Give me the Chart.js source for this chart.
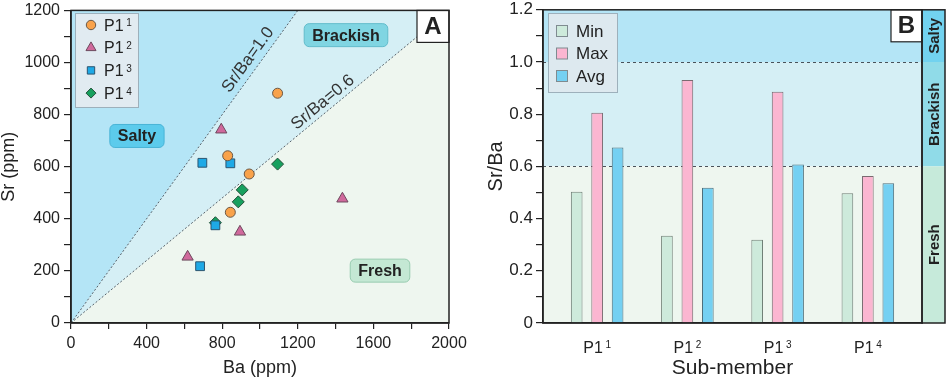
<!DOCTYPE html>
<html><head><meta charset="utf-8">
<script src="https://cdn.jsdelivr.net/npm/chart.js@4.4.1/dist/chart.umd.min.js"></script>
<style>
html,body{margin:0;padding:0;background:#fff;}
#wrap{position:relative;width:948px;height:382px;overflow:hidden;}
#a{position:absolute;left:0;top:0;width:474px;height:382px;}
#b{position:absolute;left:474px;top:0;width:474px;height:382px;}
</style></head><body>
<div id="wrap"><div id="a"><canvas id="ca"></canvas></div><div id="b"><canvas id="cb"></canvas></div></div>
<script>
// ---------- data ----------
const subMembers = ['P1¹', 'P1²', 'P1³', 'P1⁴'];
// Panel A: Ba (ppm) vs Sr (ppm)
const p11Ba = [1093, 829, 943, 843];
const p11Sr = [882, 642, 572, 425];
const p12Ba = [795, 1436, 894, 617];
const p12Sr = [742, 477, 350, 254];
const p13Ba = [695, 843, 764, 683];
const p13Sr = [615, 613, 375, 218];
const p14Ba = [1093, 906, 885, 764];
const p14Sr = [610, 511, 465, 385];
// Panel B: Sr/Ba ratio per sub-member
const ratioMin = [0.503, 0.334, 0.319, 0.497];
const ratioMax = [0.806, 0.931, 0.886, 0.563];
const ratioAvg = [0.672, 0.518, 0.607, 0.535];
// thresholds
const brackishLimit = 0.6;
const saltyLimit = 1.0;
// tick labels
const xTickLabelsA = ['0', '400', '800', '1200', '1600', '2000'];
const yTickLabelsA = ['0', '200', '400', '600', '800', '1000', '1200'];
const yTickLabelsB = ['0', '0.2', '0.4', '0.6', '0.8', '1.0', '1.2'];

// ---------- styles ----------
const FONT = "'Liberation Sans', Arial, Helvetica, sans-serif";
const INK = '#222';
const C_SALTY = '#b4e5f6';
const C_BRACK = '#d5eff5';
const C_FRESH = '#eef6ef';

const SUP = {'¹': '1', '²': '2', '³': '3', '⁴': '4'};
function splitSup(s) {
  const last = s.slice(-1);
  return SUP[last] ? [s.slice(0, -1), SUP[last]] : [s, ''];
}
function drawSupText(ctx, s, x, y, size, align) {
  const [base, sup] = splitSup(s);
  const ss = Math.round(size * 0.6);
  ctx.font = size + 'px ' + FONT;
  const wb = ctx.measureText(base).width;
  ctx.font = ss + 'px ' + FONT;
  const ws = ctx.measureText(sup).width;
  const gap = size * 0.16;
  const x0 = align === 'center' ? x - (wb + gap + ws) / 2 : x;
  ctx.textAlign = 'left';
  ctx.textBaseline = 'alphabetic';
  ctx.fillStyle = INK;
  ctx.font = size + 'px ' + FONT;
  ctx.fillText(base, x0, y + size * 0.36);
  ctx.font = ss + 'px ' + FONT;
  ctx.fillText(sup, x0 + wb + gap, y - size * 0.36 + ss * 0.72);
}
function drawMarker(ctx, style, x, y, r, fill, stroke) {
  ctx.beginPath();
  if (style === 'circle') {
    ctx.arc(x, y, r, 0, Math.PI * 2);
  } else if (style === 'triangle') {
    ctx.moveTo(x, y - r);
    ctx.lineTo(x + r * 0.866, y + r * 0.5);
    ctx.lineTo(x - r * 0.866, y + r * 0.5);
    ctx.closePath();
  } else if (style === 'rect') {
    const h = r * Math.SQRT1_2;
    ctx.rect(x - h, y - h, 2 * h, 2 * h);
  } else {
    ctx.moveTo(x, y - r); ctx.lineTo(x + r, y); ctx.lineTo(x, y + r); ctx.lineTo(x - r, y); ctx.closePath();
  }
  ctx.fillStyle = fill; ctx.fill();
  ctx.lineWidth = 1; ctx.strokeStyle = stroke; ctx.stroke();
}
function roundBox(ctx, cx, cy, text, fill, stroke) {
  ctx.font = 'bold 16px ' + FONT;
  const w = ctx.measureText(text).width + 16, h = 23;
  ctx.beginPath();
  ctx.roundRect(cx - w / 2, cy - h / 2, w, h, 5);
  ctx.fillStyle = fill; ctx.fill();
  ctx.lineWidth = 1; ctx.strokeStyle = stroke; ctx.stroke();
  ctx.fillStyle = INK; ctx.textAlign = 'center'; ctx.textBaseline = 'middle';
  ctx.fillText(text, cx, cy + 1);
}

// ---------- Panel A ----------
const markerStyles = ['circle', 'triangle', 'rect', 'rectRot'];
const markerFill = ['#f9a24a', '#d0699c', '#1ea9e6', '#17a05e'];
const markerStroke = ['#6b5846', '#6d4a5e', '#2c5570', '#24503a'];
const markerRadius = [5, 6.5, 6.2, 6];
const seriesA = [[p11Ba, p11Sr], [p12Ba, p12Sr], [p13Ba, p13Sr], [p14Ba, p14Sr]];

const regionLabelsA = [
  {text: 'Salty', ba: 349, sr: 718, fill: '#5ccbec', stroke: '#48b3d6'},
  {text: 'Brackish', ba: 1455, sr: 1105, fill: '#80d5e2', stroke: '#62bccb'},
  {text: 'Fresh', ba: 1635, sr: 201, fill: '#c4e8d4', stroke: '#98ccb0'}
];
const lineLabelsA = [
  {text: 'Sr/Ba=1.0', ratio: saltyLimit, ba: 937, sr: 1010},
  {text: 'Sr/Ba=0.6', ratio: brackishLimit, ba: 1333, sr: 847}
];

const pluginA = {
  id: 'panelA',
  beforeDraw(chart) {
    const {ctx, chartArea: ca, scales: {x, y}} = chart;
    const P = (b, s) => [x.getPixelForValue(b), y.getPixelForValue(s)];
    const xMax = x.max, yMax = y.max;
    ctx.save();
    ctx.beginPath(); ctx.rect(ca.left, ca.top, ca.width, ca.height); ctx.clip();
    const poly = (pts, col) => {
      ctx.beginPath();
      pts.forEach((p, i) => { const q = P(p[0], p[1]); i ? ctx.lineTo(q[0], q[1]) : ctx.moveTo(q[0], q[1]); });
      ctx.closePath(); ctx.fillStyle = col; ctx.fill();
    };
    poly([[0, 0], [xMax, 0], [xMax, xMax * brackishLimit], [yMax / brackishLimit, yMax], [yMax, yMax]], C_FRESH);
    poly([[0, 0], [yMax / brackishLimit, yMax], [yMax / saltyLimit, yMax]], C_BRACK);
    poly([[0, 0], [yMax / saltyLimit, yMax], [0, yMax]], C_SALTY);
    // dotted ratio lines
    ctx.setLineDash([2, 2]); ctx.lineWidth = 1; ctx.strokeStyle = '#56616a';
    [saltyLimit, brackishLimit].forEach(r => {
      const a = P(0, 0), b = P(yMax / r, yMax);
      ctx.beginPath(); ctx.moveTo(a[0], a[1]); ctx.lineTo(b[0], b[1]); ctx.stroke();
    });
    ctx.setLineDash([]);
    // rotated line labels
    lineLabelsA.forEach(l => {
      const a = P(0, 0), b = P(1000, 1000 * l.ratio);
      const ang = Math.atan2(a[1] - b[1], b[0] - a[0]);
      const c = P(l.ba, l.sr);
      ctx.save(); ctx.translate(c[0], c[1]); ctx.rotate(-ang);
      ctx.font = '17px ' + FONT; ctx.fillStyle = '#333'; ctx.textAlign = 'center'; ctx.textBaseline = 'middle';
      ctx.fillText(l.text, 0, 0); ctx.restore();
    });
    regionLabelsA.forEach(r => { const c = P(r.ba, r.sr); roundBox(ctx, c[0], c[1], r.text, r.fill, r.stroke); });
    ctx.restore();
  },
  afterDraw(chart) {
    const {ctx, chartArea: ca} = chart;
    ctx.save();
    // legend
    ctx.fillStyle = '#e1ebf1'; ctx.strokeStyle = '#9db0bb'; ctx.lineWidth = 1;
    ctx.fillRect(75.5, 13.5, 63, 94); ctx.strokeRect(75.5, 13.5, 63, 94);
    chart.data.datasets.forEach((ds, i) => {
      const cy = 25 + i * 22.7;
      drawMarker(ctx, markerStyles[i], 91, cy, [4.7, 5.8, 5.2, 5][i], markerFill[i], markerStroke[i]);
      drawSupText(ctx, ds.label, 104, cy, 16, 'left');
    });
    // panel letter
    ctx.fillStyle = '#fff'; ctx.fillRect(ca.right - 32, ca.top, 32, 32);
    ctx.strokeStyle = INK; ctx.lineWidth = 1.2; ctx.strokeRect(ca.right - 32, ca.top, 32, 32);
    ctx.fillStyle = INK; ctx.font = 'bold 24px ' + FONT; ctx.textAlign = 'center'; ctx.textBaseline = 'middle';
    ctx.fillText('A', ca.right - 16, ca.top + 17);
    // frame
    ctx.strokeStyle = INK; ctx.lineWidth = 1.5;
    ctx.strokeRect(ca.left, ca.top, ca.width, ca.height);
    ctx.restore();
  }
};

new Chart(document.getElementById('ca'), {
  type: 'scatter',
  data: {
    datasets: seriesA.map((s, i) => ({
      label: subMembers[i],
      data: s[0].map((b, j) => ({x: b, y: s[1][j]})),
      pointStyle: markerStyles[i],
      pointRadius: markerRadius[i],
      backgroundColor: markerFill[i],
      borderColor: markerStroke[i],
      borderWidth: 1
    }))
  },
  options: {
    responsive: true, maintainAspectRatio: false, animation: false,
    events: [],
    layout: {padding: {top: 7, right: 25, left: 0, bottom: 0}},
    plugins: {legend: {display: false}, tooltip: {enabled: false}},
    scales: {
      x: {
        type: 'linear', min: 0, max: 2000,
        afterFit: s => { s.height = 59; },
        ticks: {stepSize: 200, autoSkip: false, maxRotation: 0, padding: 7,
          callback: v => xTickLabelsA.includes(String(v)) ? String(v) : '',
          font: {family: FONT, size: 16, lineHeight: 1}, color: INK},
        grid: {display: true, drawOnChartArea: false, drawTicks: true, tickLength: 6, color: INK, lineWidth: 1.2},
        border: {display: true, color: INK, width: 1.5},
        title: {display: true, text: 'Ba (ppm)', color: INK, font: {family: FONT, size: 18, lineHeight: 1}, padding: {top: 0, bottom: 5}}
      },
      y: {
        type: 'linear', min: 0, max: 1200,
        afterFit: s => { s.width = 71; },
        ticks: {stepSize: 100, autoSkip: false, padding: 4,
          callback: v => yTickLabelsA.includes(String(v)) ? String(v) : '',
          font: {family: FONT, size: 16, lineHeight: 0.8}, color: INK},
        grid: {display: true, drawOnChartArea: false, drawTicks: true, tickLength: 7, color: INK, lineWidth: 1.2},
        border: {display: true, color: INK, width: 1.5},
        title: {display: true, text: 'Sr (ppm)', color: INK, font: {family: FONT, size: 18, lineHeight: 1}, padding: {top: 0, bottom: 0}}
      }
    }
  },
  plugins: [pluginA]
});

// ---------- Panel B ----------
const barFill = ['#cdeadb', '#fbb6d1', '#74d0f2'];
const barStroke = ['#6f7f76', '#7a6a70', '#4d6f7c'];
const barLabels = ['Min', 'Max', 'Avg'];
const barSeries = [ratioMin, ratioMax, ratioAvg];
const stripZones = [
  {text: 'Salty', from: saltyLimit, to: 1.2, fill: '#72d2ef'},
  {text: 'Brackish', from: brackishLimit, to: saltyLimit, fill: '#90dbe8'},
  {text: 'Fresh', from: 0, to: brackishLimit, fill: '#c6eada'}
];

const pluginB = {
  id: 'panelB',
  beforeDraw(chart) {
    const {ctx, chartArea: ca, scales: {y}} = chart;
    ctx.save();
    const band = (a, b, col) => {
      const y1 = y.getPixelForValue(b), y2 = y.getPixelForValue(a);
      ctx.fillStyle = col; ctx.fillRect(ca.left, y1, ca.width, y2 - y1);
    };
    band(saltyLimit, y.max, C_SALTY);
    band(brackishLimit, saltyLimit, C_BRACK);
    band(0, brackishLimit, C_FRESH);
    ctx.setLineDash([3, 3]); ctx.strokeStyle = '#4a525a'; ctx.lineWidth = 1;
    [saltyLimit, brackishLimit].forEach(v => {
      const py = Math.round(y.getPixelForValue(v)) + 0.5;
      ctx.beginPath(); ctx.moveTo(ca.left, py); ctx.lineTo(ca.right, py); ctx.stroke();
    });
    ctx.setLineDash([]);
    // side strip
    const sx = ca.right, sw = 23;
    stripZones.forEach(z => {
      const y1 = y.getPixelForValue(z.to), y2 = y.getPixelForValue(z.from);
      ctx.fillStyle = z.fill; ctx.fillRect(sx, y1, sw, y2 - y1);
      ctx.save(); ctx.translate(sx + sw / 2 + 1, (y1 + y2) / 2); ctx.rotate(-Math.PI / 2);
      ctx.fillStyle = INK; ctx.font = 'bold 15px ' + FONT; ctx.textAlign = 'center'; ctx.textBaseline = 'middle';
      ctx.fillText(z.text, 0, 0); ctx.restore();
    });
    ctx.restore();
  },
  afterDraw(chart) {
    const {ctx, chartArea: ca, scales: {x}} = chart;
    ctx.save();
    // category labels
    subMembers.forEach((c, i) => drawSupText(ctx, c, x.getPixelForValue(i + 1), 347, 16, 'center'));
    // legend
    const lx = 548 - 474;
    ctx.fillStyle = '#dde9ef'; ctx.strokeStyle = '#9db0bb'; ctx.lineWidth = 1;
    ctx.fillRect(lx + 0.5, 13.5, 69, 79); ctx.strokeRect(lx + 0.5, 13.5, 69, 79);
    chart.data.datasets.forEach((ds, i) => {
      const cy = 31 + i * 22.5;
      ctx.fillStyle = barFill[i]; ctx.fillRect(lx + 8.5, cy - 5.5, 11, 11);
      ctx.strokeStyle = '#7f8b90'; ctx.strokeRect(lx + 8.5, cy - 5.5, 11, 11);
      ctx.fillStyle = INK; ctx.font = '17px ' + FONT; ctx.textAlign = 'left'; ctx.textBaseline = 'middle';
      ctx.fillText(ds.label, lx + 28, cy + 1);
    });
    // panel letter
    ctx.fillStyle = '#fff'; ctx.fillRect(ca.right - 31, ca.top, 31, 32);
    ctx.strokeStyle = INK; ctx.lineWidth = 1.2; ctx.strokeRect(ca.right - 31, ca.top, 31, 32);
    ctx.fillStyle = INK; ctx.font = 'bold 24px ' + FONT; ctx.textAlign = 'center'; ctx.textBaseline = 'middle';
    ctx.fillText('B', ca.right - 15.5, ca.top + 17);
    // frames
    ctx.strokeStyle = INK; ctx.lineWidth = 1.5;
    ctx.strokeRect(ca.left, ca.top, ca.width, ca.height);
    ctx.strokeRect(ca.right, ca.top, 23, ca.height);
    ctx.restore();
  }
};

new Chart(document.getElementById('cb'), {
  type: 'bar',
  data: {
    datasets: barSeries.map((s, i) => ({
      label: barLabels[i],
      data: s.map((v, j) => ({x: j + 1, y: v})),
      backgroundColor: barFill[i],
      borderColor: barStroke[i],
      borderWidth: 1,
      categoryPercentage: 0.68,
      barPercentage: 0.57
    }))
  },
  options: {
    responsive: true, maintainAspectRatio: false, animation: false,
    events: [],
    layout: {padding: {top: 7, right: 26, left: 0, bottom: 0}},
    plugins: {legend: {display: false}, tooltip: {enabled: false}},
    scales: {
      x: {
        type: 'linear', min: 0.4, max: 4.6, offset: false,
        afterBuildTicks: s => { s.ticks = subMembers.map((c, i) => ({value: i + 1})); },
        afterFit: s => { s.height = 59; },
        ticks: {display: false},
        grid: {display: false},
        border: {display: true, color: INK, width: 1.5},
        title: {display: true, text: 'Sub-member', color: INK, font: {family: FONT, size: 21, lineHeight: 1}, padding: {top: 0, bottom: 3}}
      },
      y: {
        type: 'linear', min: 0, max: 1.2,
        afterFit: s => { s.width = 69; },
        ticks: {stepSize: 0.1, autoSkip: false, padding: 3,
          callback: v => { const k = Math.round(v * 10); return k % 2 === 0 ? yTickLabelsB[k / 2] : ''; },
          font: {family: FONT, size: 17, lineHeight: 0.8}, color: INK},
        grid: {display: true, drawOnChartArea: false, drawTicks: true, tickLength: 7, color: INK, lineWidth: 1.2},
        border: {display: true, color: INK, width: 1.5},
        title: {display: true, text: 'Sr/Ba', color: INK, font: {family: FONT, size: 20, lineHeight: 1}, padding: {top: 12, bottom: 0}}
      }
    }
  },
  plugins: [pluginB]
});
</script>
</body></html>
